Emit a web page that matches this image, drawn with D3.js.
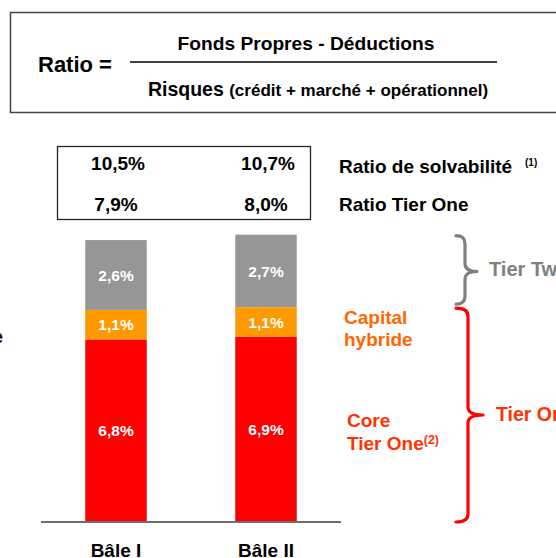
<!DOCTYPE html>
<html><head><meta charset="utf-8">
<script src="https://cdn.jsdelivr.net/npm/d3@7"></script>
<style>
html,body{margin:0;padding:0;background:#fff;}
svg{display:block;font-family:"Liberation Sans",Arial,sans-serif;font-weight:bold;}
</style></head>
<body>
<svg id="c" width="556" height="558"></svg>
<script>
const categories = ["Bâle I", "Bâle II"];
const coreTierOne = [6.8, 6.9];
const hybridCapital = [1.1, 1.1];
const tierTwo = [2.6, 2.7];
const solvencyRatio = [10.5, 10.7];
const tierOneRatio = [7.9, 8.0];
const seriesNames = ["Core Tier One", "Capital hybride", "Tier Two"];
const seriesColors = ["#ff0000", "#ff9900", "#969696"];

const fmt = v => d3.format(".1f")(v).replace(".", ",") + "%";
const svg = d3.select("#c");

// Formula box
svg.append("rect").attr("x",10.5).attr("y",12.5).attr("width",560).attr("height",100)
  .attr("fill","none").attr("stroke","#444").attr("stroke-width",1.5);
svg.append("text").attr("x",38).attr("y",72).attr("font-size",22).text("Ratio =");
svg.append("line").attr("x1",130).attr("x2",497).attr("y1",62).attr("y2",62)
  .attr("stroke","#000").attr("stroke-width",1.3);
svg.append("text").attr("x",306).attr("y",49.5).attr("text-anchor","middle").attr("font-size",19.2)
  .text("Fonds Propres - Déductions");
const den = svg.append("text").attr("x",318).attr("y",96).attr("text-anchor","middle");
den.append("tspan").attr("font-size",19.5).text("Risques ");
den.append("tspan").attr("font-size",17).text("(crédit + marché + opérationnel)");

// Stacked bars
const x = d3.scaleBand().domain(categories).range([41,341]).paddingInner(0.59).paddingOuter(0.295);
const y = d3.scaleLinear().domain([0,10]).range([522,253.5]);

const rows = categories.map((c,i)=>({cat:c, core:coreTierOne[i], hybrid:hybridCapital[i], t2:tierTwo[i]}));
const stack = d3.stack().keys(["core","hybrid","t2"])(rows);

const g = svg.append("g");
stack.forEach((layer,li)=>{
  g.selectAll(null).data(layer).enter().append("rect")
    .attr("x",d=>x(d.data.cat)).attr("width",x.bandwidth())
    .attr("y",d=>y(d[1])).attr("height",d=>y(d[0])-y(d[1]))
    .attr("fill",seriesColors[li]);
  g.selectAll(null).data(layer).enter().append("text")
    .attr("x",d=>x(d.data.cat)+x.bandwidth()/2)
    .attr("y",d=>(y(d[0])+y(d[1]))/2).attr("dy","0.36em")
    .attr("text-anchor","middle").attr("fill","#fff").attr("font-size",15.5)
    .text(d=>fmt(d[1]-d[0]));
});

// Baseline axis
svg.append("line").attr("x1",41).attr("x2",341).attr("y1",y(0)).attr("y2",y(0))
  .attr("stroke","#6e6e6e").attr("stroke-width",2);

// Category labels
svg.selectAll(null).data(categories).enter().append("text")
  .attr("x",d=>x(d)+x.bandwidth()/2).attr("y",557).attr("text-anchor","middle")
  .attr("font-size",19).text(d=>d);

// Ratio box
svg.append("rect").attr("x",57.5).attr("y",146.5).attr("width",253).attr("height",73)
  .attr("fill","none").attr("stroke","#222").attr("stroke-width",1.3);
svg.selectAll(null).data(solvencyRatio).enter().append("text")
  .attr("x",(d,i)=>x(categories[i])+x.bandwidth()/2+2).attr("y",170)
  .attr("text-anchor","middle").attr("font-size",19).text(d=>fmt(d));
svg.selectAll(null).data(tierOneRatio).enter().append("text")
  .attr("x",(d,i)=>x(categories[i])+x.bandwidth()/2).attr("y",211)
  .attr("text-anchor","middle").attr("font-size",19).text(d=>fmt(d));
svg.append("text").attr("x",339).attr("y",173).attr("font-size",19).text("Ratio de solvabilité");
svg.append("text").attr("x",525).attr("y",166).attr("font-size",10).text("(1)");
svg.append("text").attr("x",339).attr("y",211).attr("font-size",19).text("Ratio Tier One");

// Braces
function brace(x0, xv, xt, y0, y1, ym, color){
  const r = 8;
  const p = `M${x0},${y0} Q${xv},${y0} ${xv},${y0+r} L${xv},${ym-r} Q${xv},${ym} ${xt},${ym} `+
            `Q${xv},${ym} ${xv},${ym+r} L${xv},${y1-r} Q${xv},${y1} ${x0},${y1}`;
  svg.append("path").attr("d",p).attr("fill","none").attr("stroke",color)
    .attr("stroke-width",3.2).attr("stroke-linejoin","round").attr("stroke-linecap","round");
}
const b2Top = y(solvencyRatio[1]), b2Mid = y(tierOneRatio[1]), b0 = y(0);
brace(456, 465, 477, b2Top+1, b2Mid-3, 271.5, "#808080");
brace(456, 468, 483, b2Mid+1, b0, 415, "#ff0000");

// Annotation labels
svg.append("text").attr("x",489).attr("y",276).attr("font-size",20).attr("fill","#808080").text("Tier Two");
svg.append("text").attr("x",496).attr("y",421).attr("font-size",19.5).attr("fill","#ff3300").text("Tier One");
const ch = svg.append("text").attr("font-size",19).attr("fill","#ff6600");
ch.append("tspan").attr("x",344).attr("y",324).text("Capital");
ch.append("tspan").attr("x",344).attr("y",346).text("hybride");
const ct = svg.append("text").attr("font-size",19).attr("fill","#ff3300");
ct.append("tspan").attr("x",347).attr("y",427).text("Core");
ct.append("tspan").attr("x",347).attr("y",450).text("Tier One");
ct.append("tspan").attr("font-size",12.5).attr("dy",-6).text("(2)");

// Cut-off fragment at left edge
svg.append("text").attr("x",3).attr("y",343).attr("text-anchor","end").attr("font-size",19).text("e");
</script>
</body></html>
